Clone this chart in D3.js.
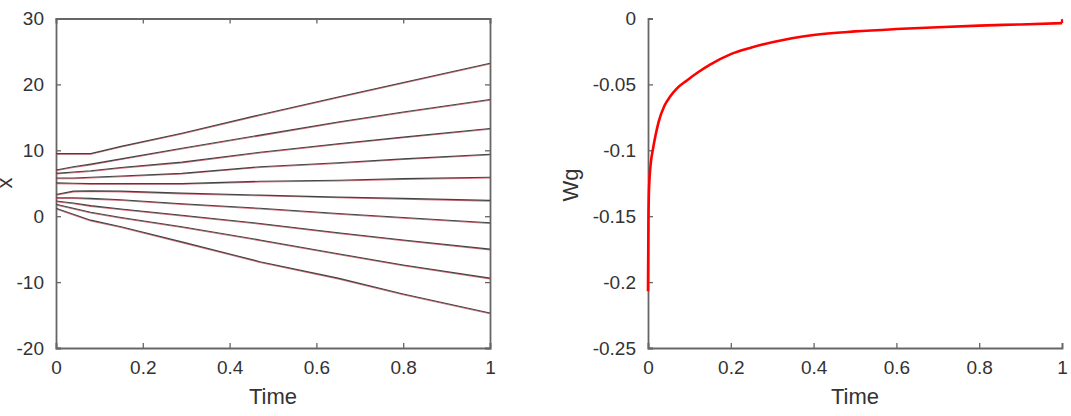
<!DOCTYPE html>
<html>
<head>
<meta charset="utf-8">
<script src="https://cdn.jsdelivr.net/npm/d3@7"></script>
<style>
  body { margin: 0; background: #fff; }
  svg text { font-family: "Liberation Sans", Arial, sans-serif; fill: #333; }
</style>
</head>
<body>
<svg></svg>
<script>
// time samples for the trajectories (left panel)
var tX = [0, 0.04, 0.08, 0.15, 0.29, 0.47, 0.65, 0.8, 1];
// x(t) for each of the 10 particles
var xLines = [
  [9.5, 9.5, 9.5, 10.6, 12.6, 15.4, 18.1, 20.3, 23.2],
  [7.0, 7.5, 7.9, 8.7, 10.3, 12.3, 14.3, 15.8, 17.7],
  [6.5, 6.7, 6.9, 7.4, 8.2, 9.7, 11.0, 12.0, 13.3],
  [5.8, 5.8, 5.9, 6.1, 6.5, 7.5, 8.1, 8.7, 9.4],
  [5.05, 5.0, 4.95, 4.95, 4.95, 5.3, 5.45, 5.7, 5.9],
  [3.3, 3.8, 3.85, 3.8, 3.5, 3.2, 2.9, 2.7, 2.4],
  [2.8, 2.8, 2.7, 2.5, 1.9, 1.2, 0.4, -0.2, -1.0],
  [2.3, 2.0, 1.6, 1.1, 0.15, -1.1, -2.5, -3.6, -5.0],
  [1.8, 1.2, 0.6, -0.2, -1.6, -3.6, -5.7, -7.4, -9.4],
  [1.2, 0.3, -0.6, -1.6, -3.9, -6.9, -9.4, -11.8, -14.7]
];
var xTicks = [0, 0.2, 0.4, 0.6, 0.8, 1];
var yTicksL = [-20, -10, 0, 10, 20, 30];

// Wg(t) (right panel); wgEnd is the small jump at t = 1
var tW = [0, 0.001, 0.002, 0.004, 0.007, 0.012, 0.018, 0.026, 0.04, 0.054, 0.07, 0.094, 0.12, 0.15, 0.2, 0.25, 0.3, 0.4, 0.5, 0.6, 0.7, 0.8, 0.9, 1.0];
var wg = [-0.207, -0.155, -0.135, -0.12, -0.109, -0.099, -0.089, -0.078, -0.066, -0.059, -0.053, -0.047, -0.041, -0.035, -0.027, -0.022, -0.018, -0.0125, -0.0098, -0.008, -0.0066, -0.0054, -0.0045, -0.0035];
var wgEnd = -0.0005;
var yTicksR = [-0.25, -0.2, -0.15, -0.1, -0.05, 0];

var w = 1071, h = 416;
var svg = d3.select("svg").attr("width", w).attr("height", h);

var axisColor = "#666";
var tickFont = "19px";
var labelFont = "22px";

function panel(left, right, yDomain, yTicks, box) {
  var top = 18.5, bottom = 348;
  var x = d3.scaleLinear().domain([0, 1]).range([left, right]);
  var y = d3.scaleLinear().domain(yDomain).range([bottom, top]);
  var g = svg.append("g");

  var xa = g.append("g").attr("transform", "translate(0," + bottom + ")")
    .call(d3.axisBottom(x).tickValues(xTicks).tickSize(-5).tickPadding(13).tickFormat(String));
  var ya = g.append("g").attr("transform", "translate(" + left + ",0)")
    .call(d3.axisLeft(y).tickValues(yTicks).tickSize(-5).tickPadding(12).tickFormat(String));
  var axes = [xa, ya];
  if (box) {
    axes.push(g.append("g").attr("transform", "translate(0," + top + ")")
      .call(d3.axisTop(x).tickValues(xTicks).tickSize(-5).tickFormat("")));
    axes.push(g.append("g").attr("transform", "translate(" + right + ",0)")
      .call(d3.axisRight(y).tickValues(yTicks).tickSize(-5).tickFormat("")));
  }
  axes.forEach(function(a) {
    a.select(".domain").attr("stroke", axisColor).attr("stroke-width", 1.8);
    a.selectAll(".tick line").attr("stroke", axisColor).attr("stroke-width", 1.3);
    a.selectAll("text").attr("font-size", tickFont).attr("fill", "#333")
      .attr("font-family", "Liberation Sans, Arial, sans-serif");
  });
  g.append("text").attr("x", (left + right) / 2).attr("y", 404)
    .attr("text-anchor", "middle").attr("font-size", labelFont).text("Time");
  return {x: x, y: y, g: g};
}

// left panel
var L = panel(56, 490, [-20, 30], yTicksL, true);
L.g.append("text").attr("transform", "translate(12,183) rotate(-90)")
  .attr("text-anchor", "middle").attr("font-size", labelFont).text("x");

var lineL = d3.line().x(function(d, i) { return L.x(tX[i]); }).y(function(d) { return L.y(d); });
xLines.forEach(function(vals) {
  L.g.append("path").attr("d", lineL(vals)).attr("fill", "none")
    .attr("stroke", "#d04a58").attr("stroke-width", 1.1).attr("stroke-opacity", 0.8)
    .attr("transform", "translate(0,0.7)");
  L.g.append("path").attr("d", lineL(vals)).attr("fill", "none")
    .attr("stroke", "#444").attr("stroke-width", 1.1);
});

// right panel
var R = panel(648, 1062, [-0.25, 0], yTicksR, false);
R.g.append("text").attr("transform", "translate(578,185) rotate(-90)")
  .attr("text-anchor", "middle").attr("font-size", labelFont).text("Wg");

var lineR = d3.line().curve(d3.curveMonotoneX)
  .x(function(d, i) { return R.x(tW[i]); }).y(function(d) { return R.y(d); });
R.g.append("path").attr("d", lineR(wg)).attr("fill", "none")
  .attr("stroke", "#ff0000").attr("stroke-width", 2.6).attr("stroke-linejoin", "round");
R.g.append("path")
  .attr("d", d3.line()([[R.x(1), R.y(wg[wg.length - 1])], [R.x(1), R.y(wgEnd)]]))
  .attr("stroke", "#ff0000").attr("stroke-width", 2.2);
</script>
</body>
</html>
